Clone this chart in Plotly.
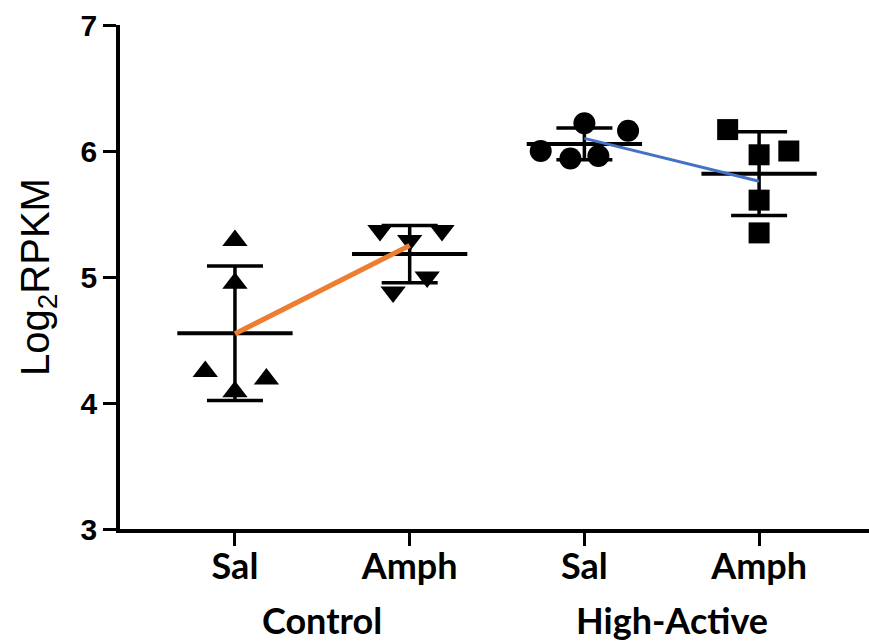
import numpy as np
import plotly.graph_objects as go

# ---- data ----
categories = ["Sal", "Amph", "Sal", "Amph"]
groups = ["Control", "High-Active"]

ctrl_sal = [5.29, 4.95, 4.25, 4.19, 4.09]
ctrl_amph = [5.37, 5.37, 5.29, 5.00, 4.88]
ha_sal = [6.22, 6.16, 6.00, 5.94, 5.96]
ha_amph = [6.17, 5.97, 6.00, 5.61, 5.35]

# horizontal scatter spread of points (category units)
ctrl_sal_spread = [0.0, 0.0, -0.17, 0.18, 0.0]
ctrl_amph_spread = [-0.17, 0.185, 0.0, 0.10, -0.095]
ha_sal_spread = [0.0, 0.25, -0.25, -0.08, 0.08]
ha_amph_spread = [-0.18, 0.0, 0.17, 0.0, 0.0]

# hand-drawn trend lines (start, end)
trend_control = [4.55, 5.25]
trend_high = [6.10, 5.76]

series = [
    (ctrl_sal, ctrl_sal_spread, "triangle-up", 22),
    (ctrl_amph, ctrl_amph_spread, "triangle-down", 22),
    (ha_sal, ha_sal_spread, "circle", 22),
    (ha_amph, ha_amph_spread, "square", 21),
]

fig = go.Figure()

for i, (vals, spread, sym, size) in enumerate(series):
    v = np.array(vals)
    fig.add_trace(go.Scatter(
        x=[i + s for s in spread], y=v, mode="markers",
        marker=dict(symbol=sym, size=size, color="black", line=dict(width=0)),
        showlegend=False, hoverinfo="y"))
    m = v.mean()
    sd = v.std(ddof=1)
    fig.add_trace(go.Scatter(
        x=[i], y=[m], mode="markers",
        marker=dict(size=1, color="rgba(0,0,0,0)"),
        error_y=dict(type="data", array=[sd], symmetric=True,
                     color="black", thickness=3.5, width=28),
        error_x=dict(type="constant", value=0.33, symmetric=True,
                     color="black", thickness=4, width=0),
        showlegend=False, hoverinfo="y"))

fig.add_trace(go.Scatter(x=[0, 1], y=trend_control, mode="lines",
                         line=dict(color="#ED7D31", width=5),
                         showlegend=False))
fig.add_trace(go.Scatter(x=[2, 3], y=trend_high, mode="lines",
                         line=dict(color="#4472C4", width=3),
                         showlegend=False))

fig.update_layout(
    width=869, height=641,
    margin=dict(l=120, r=0, t=25, b=112),
    plot_bgcolor="white", paper_bgcolor="white",
    font=dict(family="Liberation Sans, Arial, sans-serif", color="black"),
)

fig.update_xaxes(
    range=[-0.658, 3.629],
    tickmode="array", tickvals=[0, 1, 2, 3], ticktext=categories,
    tickfont=dict(family="Lato", size=36, weight="bold", color="black"),
    ticklabelstandoff=-10,
    showline=True, linecolor="black", linewidth=3.5,
    ticks="outside", ticklen=13, tickwidth=3, tickcolor="black",
    showgrid=False, zeroline=False,
)
fig.update_yaxes(
    range=[3, 7], tickmode="array", tickvals=[3, 4, 5, 6, 7],
    tickfont=dict(family="Liberation Sans", size=30, weight="bold", color="black"),
    showline=True, linecolor="black", linewidth=3.5,
    ticks="outside", ticklen=13, tickwidth=3, tickcolor="black",
    showgrid=False, zeroline=False,
)

# y title
fig.add_annotation(text="Log<sub>2</sub>RPKM", textangle=-90,
                   xref="paper", x=0, xanchor="center", xshift=-82,
                   yref="y", y=5, yanchor="middle", showarrow=False,
                   font=dict(family="Liberation Sans", size=40, color="black"))

# group labels
for gx, g in zip([0.5, 2.5], groups):
    fig.add_annotation(text=g, xref="x", x=gx, yref="paper", y=0,
                       yanchor="middle", yshift=-91, showarrow=False,
                       font=dict(family="Lato", size=36, weight="bold", color="black"))

fig.write_html("out.html",
               config={"displayModeBar": False},
               post_script="document.body.style.margin='0px';document.body.style.overflow='hidden';")
